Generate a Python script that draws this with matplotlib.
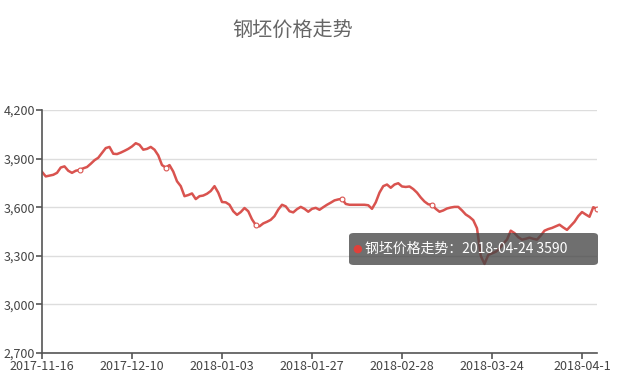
# -*- coding:utf-8 -*-
"""
钢坯价格走势图
"""
import numpy as np
import matplotlib
matplotlib.use('Agg')
import matplotlib.pyplot as plt
from matplotlib.patches import FancyBboxPatch
from matplotlib.ticker import FuncFormatter

plt.rcParams['font.family'] = ['Noto Sans CJK SC', 'DejaVu Sans']

title = '钢坯价格走势'
x_labels = ['2017-11-16', '2017-12-10', '2018-01-03', '2018-01-27',
            '2018-02-28', '2018-03-24', '2018-04-1']
label_step = 24
prices = [
    3818, 3790, 3795, 3800, 3812, 3845, 3852, 3825, 3812, 3825,
    3830, 3840, 3848, 3868, 3890, 3905, 3935, 3965, 3972, 3930,
    3928, 3937, 3948, 3960, 3975, 3995, 3985, 3955, 3960, 3972,
    3955, 3920, 3860, 3845, 3860, 3820, 3760, 3730, 3668, 3675,
    3685, 3650, 3668, 3672, 3683, 3700, 3730, 3690, 3632, 3630,
    3615, 3575, 3553, 3570, 3595, 3575, 3525, 3490, 3482, 3500,
    3510, 3522, 3545, 3585, 3615, 3605, 3575, 3568, 3588, 3602,
    3590, 3572, 3590, 3596, 3584, 3600, 3615, 3628, 3642, 3648,
    3652, 3620, 3615, 3615, 3615, 3615, 3615, 3612, 3590, 3630,
    3690, 3730, 3740, 3720, 3740, 3748, 3728, 3725, 3728, 3712,
    3690, 3660, 3635, 3618, 3615, 3590, 3572, 3580, 3592, 3598,
    3602, 3602, 3580, 3555, 3540, 3520, 3470, 3300, 3250, 3305,
    3315, 3325, 3345, 3375, 3400, 3455, 3440, 3415, 3400, 3405,
    3412, 3405, 3400, 3425, 3455, 3465, 3472, 3482, 3492, 3475,
    3460, 3485, 3510, 3545, 3570, 3555, 3541, 3600, 3590,
]
marker_idx = [10, 33, 57, 80, 104, 148]
tip_date = '2018-04-24'
tip_value = 3590

W, H = 617, 390
fig = plt.figure(figsize=(W / 100, H / 100), dpi=100)
ax = fig.add_axes([42 / W, (H - 353) / H, 555 / W, 243 / H])

line_color = '#d9534f'
xs = np.arange(len(prices))
ax.plot(xs, prices, color=line_color, lw=1.8, solid_joinstyle='round')
ax.plot(xs[marker_idx], np.array(prices)[marker_idx], 'o', ms=3.5,
        mfc='white', mec=line_color, mew=0.8)

ax.set_xlim(0, len(prices) - 1)
ax.set_ylim(2700, 4200)
ax.set_yticks([2700, 3000, 3300, 3600, 3900, 4200])
ax.yaxis.set_major_formatter(FuncFormatter(lambda v, p: '{:,.0f}'.format(v)))
ax.set_xticks([i * label_step for i in range(len(x_labels))])
ax.set_xticklabels(x_labels)

ax.grid(axis='y', color='#dddddd', lw=1)
ax.set_axisbelow(True)
for s in ['top', 'right']:
    ax.spines[s].set_visible(False)
for s in ['left', 'bottom']:
    ax.spines[s].set_color('#555555')
    ax.spines[s].set_linewidth(1.2)
ax.tick_params(axis='both', colors='#555555', labelcolor='#444444',
               labelsize=9, length=4, width=1.2)
ax.tick_params(axis='x', pad=1)
ax.tick_params(axis='y', pad=1)

fig.text(293 / W, 1 - 30 / H, title, ha='center', va='center',
         fontsize=14.5, color='#666666')

# tooltip
box = FancyBboxPatch((349 / W, 1 - 265 / H), 249 / W, 32 / H,
                     boxstyle='round,pad=0,rounding_size=0.008',
                     transform=fig.transFigure, fc='#464646', ec='none',
                     alpha=0.78, zorder=10)
fig.patches.append(box)
fig.text(357 / W, 1 - 249 / H, '●', color='#e0403a', fontsize=8,
         ha='center', va='center', zorder=11,
         family=['DejaVu Sans'])
fig.text(365 / W, 1 - 249 / H,
         '%s：%s %d' % (title, tip_date, tip_value),
         color='white', fontsize=10, ha='left', va='center', zorder=11)

fig.savefig('out.png', dpi=100)
